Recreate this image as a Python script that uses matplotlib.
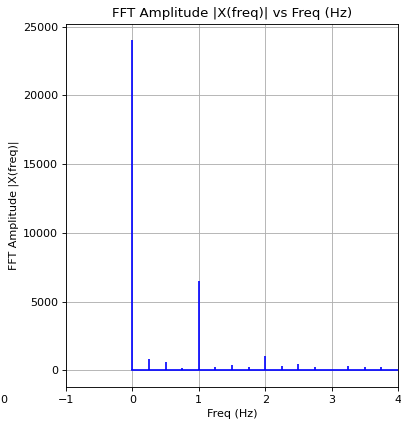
import numpy as np
import matplotlib
matplotlib.use('Agg')
import matplotlib.pyplot as plt

# frequencies (Hz) and FFT amplitudes
freq = [0.0, 0.25, 0.5, 0.75, 1.0, 1.25, 1.5, 1.75, 2.0, 2.25, 2.5, 2.75, 3.0, 3.25, 3.5, 3.75, 4.0]
amplitude = [24000, 820, 600, 170, 6500, 240, 390, 220, 1080, 340, 460, 270, 60, 340, 270, 270, 60]

fig = plt.figure(figsize=(401 / 80, 421 / 80), dpi=80)
ax = fig.add_axes([0.1646, 0.0808, 0.8279, 0.8622])

ax.stem(freq, amplitude, linefmt='b', markerfmt=' ', basefmt='-b')
ax.set_title('FFT Amplitude |X(freq)| vs Freq (Hz)')
ax.set_xlabel('Freq (Hz)')
ax.set_ylabel('FFT Amplitude |X(freq)|')
ax.set_xlim(-1, 4)
ax.grid(True)

# clipped tick label of a neighbouring panel at the left edge
fig.text(0.0, 1 - 395 / 421, '0', ha='left', va='top', fontsize=10)

fig.savefig('out.png', dpi=80)
